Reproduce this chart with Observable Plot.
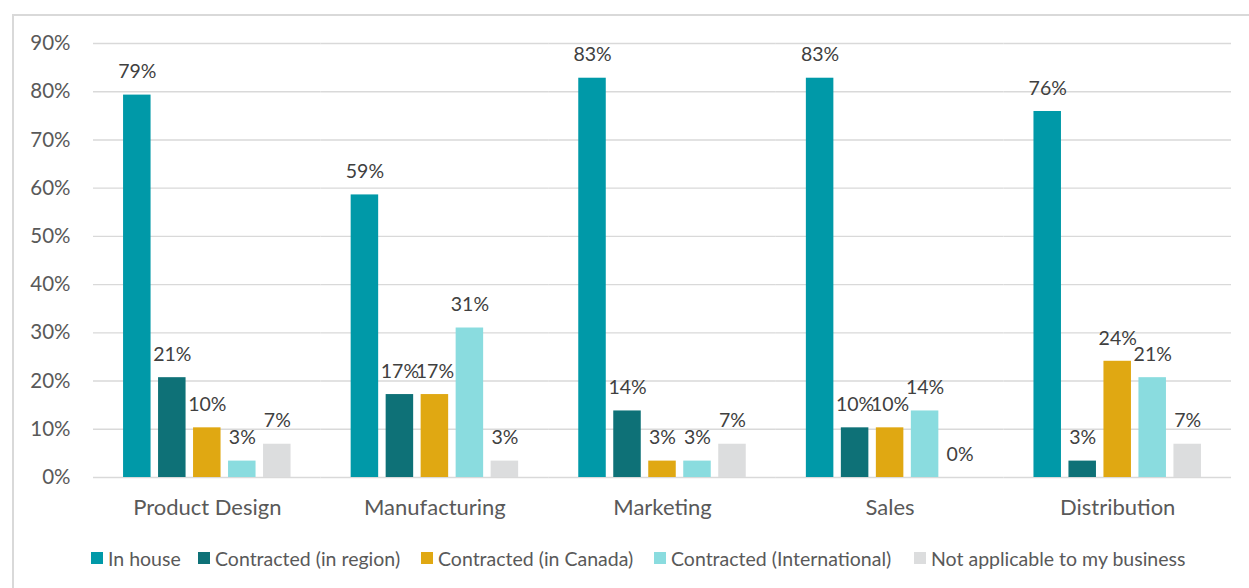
<!DOCTYPE html>
<html>
<head>
<meta charset="utf-8">
<script src="https://cdn.jsdelivr.net/npm/d3@7"></script>
<script src="https://cdn.jsdelivr.net/npm/@observablehq/plot@0.6"></script>
<style>
  html, body { margin: 0; padding: 0; background: #fff; overflow: hidden; }
  body { width: 1249px; height: 588px; position: relative; font-family: Lato, "Open Sans", sans-serif; }
  #frame { position: absolute; left: 12px; top: 14px; width: 1300px; height: 700px; border: 2px solid #d9d9d9; box-sizing: border-box; }
  #chart { position: absolute; left: 0; top: 0; }
  #legend { position: absolute; left: 0; top: 546px; width: 1249px; height: 24px; font-size: 19.5px; color: #595959; white-space: nowrap; }
  #legend .item { position: absolute; top: 0; display: flex; align-items: center; gap: 5px; height: 24px; }
  #legend .sw { width: 12px; height: 12px; display: inline-block; }
</style>
</head>
<body>
<div id="frame"></div>
<div id="chart"></div>
<div id="legend"></div>
<script>
const categories = ["Product Design", "Manufacturing", "Marketing", "Sales", "Distribution"];
const series = ["In house", "Contracted (in region)", "Contracted (in Canada)", "Contracted (International)", "Not applicable to my business"];
const inHouse = [79.3, 58.6, 82.8, 82.8, 75.9];
const inRegion = [20.7, 17.2, 13.8, 10.3, 3.4];
const inCanada = [10.3, 17.2, 3.4, 10.3, 24.1];
const international = [3.4, 31.0, 3.4, 13.8, 20.7];
const notApplicable = [6.9, 3.4, 6.9, 0, 6.9];
const yTicks = [0, 10, 20, 30, 40, 50, 60, 70, 80, 90];
const colors = ["#0099a8", "#0e7177", "#e0a812", "#8adcdf", "#dcddde"];
const legendLeft = [91, 198, 421, 654, 914];

const seriesValues = [inHouse, inRegion, inCanada, international, notApplicable];
const rows = [];
categories.forEach((c, i) => {
  series.forEach((s, j) => {
    rows.push({category: c, series: s, value: seriesValues[j][i]});
  });
});

const chart = Plot.plot({
  width: 1249,
  height: 530,
  marginLeft: 93,
  marginRight: 18,
  marginTop: 43,
  marginBottom: 53,
  style: {fontFamily: "Lato, 'Open Sans', sans-serif", fontSize: "20.5px", color: "#595959", background: "transparent"},
  y: {domain: [0, 90], ticks: yTicks, tickFormat: d => d + "%", tickSize: 0, tickPadding: 23, label: null},
  fx: {domain: categories, padding: 0, round: false, tickSize: 0, tickPadding: 22, label: null, axis: "bottom"},
  x: {domain: series, paddingInner: 0.214, paddingOuter: 0.859, round: false, axis: null},
  color: {domain: series, range: colors},
  marks: [
    Plot.ruleY(yTicks, {stroke: "#d9d9d9", strokeWidth: 1.4}),
    Plot.barY(rows, {fx: "category", x: "series", y: "value", fill: "series"}),
    Plot.text(rows, {fx: "category", x: "series", y: "value", text: d => Math.round(d.value) + "%", dy: -23, fontSize: 19.5, fill: "#404040"})
  ]
});
chart.querySelectorAll("[aria-label='fx-axis tick label'] text").forEach(t => t.setAttribute("font-size", "22"));
document.getElementById("chart").appendChild(chart);

const legend = document.getElementById("legend");
series.forEach((s, j) => {
  const item = document.createElement("div");
  item.className = "item";
  item.style.left = legendLeft[j] + "px";
  const sw = document.createElement("span");
  sw.className = "sw";
  sw.style.background = colors[j];
  const t = document.createElement("span");
  t.textContent = s;
  item.appendChild(sw);
  item.appendChild(t);
  legend.appendChild(item);
});
</script>
</body>
</html>
